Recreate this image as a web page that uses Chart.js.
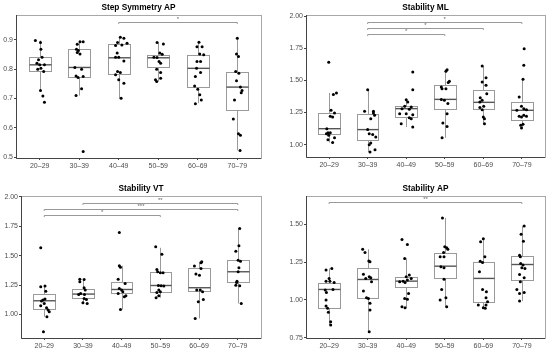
<!DOCTYPE html>
<html>
<head>
<meta charset="utf-8">
<script src="https://cdn.jsdelivr.net/npm/chart.js@4.4.1/dist/chart.umd.min.js"></script>
<style>
html, body { margin: 0; padding: 0; background: #fff; }
#wrap { position: relative; width: 550px; height: 351px; }
#wrap canvas { position: absolute; }
</style>
</head>
<body>
<div id="wrap">
  <canvas id="c1" width="275" height="175" style="left:0;top:0"></canvas>
  <canvas id="c2" width="275" height="175" style="left:275px;top:0"></canvas>
  <canvas id="c3" width="275" height="176" style="left:0;top:175px"></canvas>
  <canvas id="c4" width="275" height="176" style="left:275px;top:175px"></canvas>
</div>
<script>
const ageGroups = ["20–29", "30–39", "40–49", "50–59", "60–69", "70–79"];

// Step Symmetry AP
const ssTicks = [0.5, 0.6, 0.7, 0.8, 0.9];
const ssQ1 = [0.793, 0.775, 0.784, 0.807, 0.738, 0.661];
const ssMed = [0.815, 0.806, 0.839, 0.839, 0.803, 0.739];
const ssQ3 = [0.841, 0.868, 0.885, 0.847, 0.849, 0.790];
const ssLow = [0.727, 0.710, 0.701, 0.758, 0.684, 0.523];
const ssHigh = [0.898, 0.897, 0.909, 0.891, 0.892, 0.906];
const ssPoints = [
  [[-0.11,0.898],[0.02,0.891],[0.03,0.868],[0.06,0.841],[-0.03,0.832],[-0.07,0.820],[0,0.815],[0.12,0.815],[-0.05,0.800],[0.03,0.803],[0.1,0.792],[0.02,0.727],[0.08,0.709],[0.12,0.687]],
  [[0.02,0.894],[0.1,0.894],[-0.05,0.885],[-0.07,0.868],[-0.02,0.864],[-0.05,0.857],[0.02,0.852],[-0.11,0.806],[0.06,0.800],[-0.08,0.777],[-0.03,0.772],[0.1,0.775],[0.06,0.733],[-0.08,0.710],[0.1,0.519]],
  [[0.04,0.909],[0.13,0.906],[-0.03,0.891],[0.21,0.889],[-0.08,0.881],[0.08,0.883],[-0.04,0.855],[-0.08,0.841],[0,0.841],[0.13,0.828],[-0.03,0.792],[0.04,0.789],[-0.08,0.781],[0,0.764],[0.13,0.752],[0.06,0.701]],
  [[-0.03,0.891],[0.13,0.886],[0.04,0.855],[0.1,0.851],[-0.11,0.841],[-0.03,0.840],[0.02,0.826],[0.06,0.820],[-0.04,0.800],[0.06,0.789],[-0.07,0.764],[0.06,0.769],[-0.04,0.758]],
  [[0.03,0.892],[0.11,0.877],[-0.02,0.877],[0.05,0.852],[0.15,0.849],[-0.02,0.826],[0.07,0.826],[-0.03,0.803],[0.07,0.789],[-0.06,0.775],[-0.08,0.743],[0,0.732],[0.05,0.713],[0.09,0.695],[-0.06,0.682]],
  [[0,0.906],[-0.02,0.852],[0.03,0.843],[-0.04,0.792],[0.04,0.786],[-0.02,0.761],[0.08,0.739],[0.12,0.727],[0.1,0.720],[-0.07,0.695],[-0.1,0.630],[0.03,0.580],[0.08,0.575],[0.07,0.523]]
];
const ssSig = [[3, 6, 0.962, "*"]];

// Stability ML
const mlTicks = [1.00, 1.25, 1.50, 1.75, 2.00];
const mlQ1 = [1.085, 1.034, 1.215, 1.280, 1.280, 1.189];
const mlMed = [1.124, 1.117, 1.280, 1.352, 1.329, 1.267];
const mlQ3 = [1.249, 1.241, 1.298, 1.464, 1.427, 1.332];
const mlLow = [1.016, 0.943, 1.137, 1.054, 1.163, 1.130];
const mlHigh = [1.402, 1.427, 1.350, 1.583, 1.611, 1.508];
const mlPoints = [
  [[-0.01,1.640],[0.11,1.389],[0.19,1.402],[0.05,1.267],[0.03,1.220],[0.14,1.246],[0.09,1.215],[-0.06,1.124],[-0.03,1.093],[0.03,1.093],[-0.07,1.085],[-0.01,1.073],[0.14,1.054],[-0.03,1.039],[0.09,1.016]],
  [[0,1.427],[-0.08,1.259],[0.15,1.259],[0.15,1.246],[0.18,1.228],[0.08,1.202],[0,1.117],[0.04,1.085],[0.13,1.078],[0.21,1.060],[0.08,1.013],[0.04,1.000],[0.19,0.961],[0.06,0.943]],
  [[0.17,1.565],[0.17,1.427],[0,1.350],[0.04,1.332],[-0.04,1.298],[0.13,1.293],[-0.11,1.280],[0.08,1.275],[0,1.241],[-0.17,1.241],[0.17,1.233],[0.08,1.210],[0.13,1.202],[-0.13,1.163],[0.17,1.137]],
  [[0.06,1.583],[0.03,1.570],[0.12,1.492],[0.09,1.484],[-0.09,1.448],[-0.07,1.435],[0.03,1.435],[-0.09,1.352],[-0.01,1.345],[0.08,1.319],[0.06,1.241],[-0.05,1.168],[0.06,1.142],[-0.07,1.054]],
  [[-0.03,1.611],[-0.03,1.487],[0.07,1.521],[0.07,1.461],[0.09,1.396],[-0.08,1.365],[-0.03,1.345],[-0.09,1.332],[0.01,1.298],[-0.09,1.288],[-0.03,1.272],[0,1.215],[0.03,1.202],[0.03,1.163]],
  [[0.06,1.746],[0.05,1.617],[0.03,1.508],[-0.07,1.370],[-0.01,1.298],[0.05,1.280],[0.12,1.272],[-0.13,1.267],[-0.07,1.220],[-0.01,1.215],[0.05,1.228],[0.12,1.220],[-0.03,1.150],[0.03,1.158],[-0.01,1.130]]
];
const mlSig = [[2, 6, 1.953, "*"], [2, 5, 1.906, "*"], [2, 4, 1.857, "*"]];

// Stability VT
const vtTicks = [1.00, 1.25, 1.50, 1.75, 2.00];
const vtQ1 = [1.042, 1.136, 1.178, 1.187, 1.201, 1.278];
const vtMed = [1.116, 1.173, 1.212, 1.246, 1.227, 1.363];
const vtQ3 = [1.173, 1.215, 1.278, 1.363, 1.397, 1.462];
const vtLow = [0.980, 1.093, 1.042, 1.142, 0.966, 1.093];
const vtHigh = [1.241, 1.300, 1.414, 1.567, 1.448, 1.731];
const vtPoints = [
  [[-0.09,1.567],[-0.09,1.235],[0.02,1.241],[0.04,1.198],[0.02,1.130],[-0.03,1.122],[-0.07,1.113],[0,1.093],[-0.09,1.074],[0.06,1.057],[0.1,1.037],[0.13,1.023],[0.07,0.980],[-0.02,0.853]],
  [[-0.08,1.300],[0.03,1.297],[-0.08,1.278],[0.03,1.227],[0.06,1.207],[-0.06,1.178],[-0.11,1.170],[0.04,1.170],[0.03,1.136],[0.09,1.127],[0,1.099],[0.11,1.093]],
  [[-0.06,1.697],[-0.06,1.414],[-0.03,1.402],[-0.09,1.300],[0.09,1.263],[-0.06,1.221],[0,1.207],[0.03,1.193],[-0.09,1.178],[0.07,1.150],[0.11,1.159],[-0.03,1.042]],
  [[-0.12,1.575],[0.04,1.513],[-0.09,1.382],[-0.07,1.363],[0,1.354],[0.07,1.354],[0.09,1.241],[-0.05,1.246],[0.02,1.244],[-0.04,1.207],[0,1.193],[-0.09,1.187],[-0.04,1.159],[-0.11,1.142]],
  [[0.07,1.448],[0.05,1.439],[-0.12,1.411],[-0.08,1.343],[0.01,1.334],[0.05,1.391],[-0.06,1.207],[0.03,1.207],[0.09,1.193],[-0.02,1.108],[0.11,1.127],[-0.1,0.966]],
  [[0.05,1.731],[0.03,1.584],[-0.05,1.538],[0.01,1.462],[0.07,1.453],[0.03,1.397],[0.01,1.363],[-0.02,1.283],[-0.03,1.272],[-0.05,1.249],[0.05,1.244],[0.09,1.093]]
];
const vtSig = [[2, 6, 1.952, "**"], [1, 6, 1.901, "***"], [1, 4, 1.850, "*"]];

// Stability AP
const apTicks = [0.75, 1.00, 1.25, 1.50];
const apQ1 = [0.948, 1.010, 1.087, 1.142, 0.988, 1.131];
const apMed = [1.069, 1.135, 1.124, 1.223, 1.142, 1.234];
const apQ3 = [1.109, 1.214, 1.153, 1.313, 1.252, 1.291];
const apLow = [0.834, 0.790, 0.948, 0.955, 0.944, 0.992];
const apHigh = [1.208, 1.335, 1.274, 1.542, 1.405, 1.489];
const apPoints = [
  [[0.07,1.208],[-0.08,1.197],[0,1.142],[-0.08,1.124],[0.02,1.124],[0.13,1.115],[0.1,1.069],[-0.1,1.065],[-0.07,1.049],[-0.08,0.999],[-0.08,0.959],[-0.04,0.944],[-0.02,0.918],[0.04,0.856],[0.04,0.834]],
  [[-0.13,1.335],[-0.07,1.313],[0.03,1.258],[0.06,1.252],[-0.11,1.170],[0.04,1.153],[0.08,1.146],[-0.05,1.142],[0.1,1.120],[-0.11,1.058],[-0.03,1.014],[0.02,1.010],[0.06,0.977],[0.06,0.933],[0.04,0.790]],
  [[-0.11,1.399],[0.03,1.366],[-0.04,1.274],[0.08,1.164],[0,1.153],[0.13,1.142],[-0.08,1.124],[0.03,1.131],[-0.17,1.120],[-0.03,1.115],[0.06,1.043],[-0.04,1.010],[0.03,1.005],[-0.11,0.955],[-0.03,0.948]],
  [[-0.06,1.542],[0,1.351],[0.05,1.344],[0.08,1.335],[-0.03,1.313],[-0.12,1.285],[-0.02,1.285],[-0.1,1.219],[-0.02,1.212],[-0.02,1.137],[-0.08,1.069],[0.03,1.014],[-0.12,0.999],[0.05,0.955]],
  [[0,1.405],[-0.07,1.384],[-0.08,1.256],[-0.02,1.247],[0.04,1.285],[-0.1,1.186],[-0.02,1.069],[0.08,1.054],[0.07,1.014],[0.11,0.988],[-0.13,0.966],[0.07,0.966],[0,0.948],[0.05,0.944]],
  [[0.06,1.489],[-0.02,1.434],[0.04,1.388],[-0.06,1.296],[-0.04,1.285],[-0.03,1.241],[0,1.212],[0.03,1.230],[0.08,1.208],[-0.06,1.168],[0.06,1.146],[-0.04,1.120],[-0.13,1.069],[-0.06,1.043],[0.06,1.049],[-0.06,0.992]]
];
const apSig = [[1, 6, 1.647, "**"]];

const FONT = "'Liberation Sans', Arial, sans-serif";
const BOX_HALF = 0.28;

// boxes, whiskers and medians, drawn under the points
const boxPlugin = {
  id: "boxes",
  beforeDatasetsDraw(chart) {
    const o = chart.options.plugins.boxes;
    const { ctx } = chart;
    const x = chart.scales.x, y = chart.scales.y;
    ctx.save();
    o.q1.forEach((q1, i) => {
      const cx = Math.round(x.getPixelForValue(i + 1)) + 0.5;
      const left = Math.round(x.getPixelForValue(i + 1 - BOX_HALF)) + 0.5;
      const right = Math.round(x.getPixelForValue(i + 1 + BOX_HALF)) + 0.5;
      const yq1 = Math.round(y.getPixelForValue(q1)) + 0.5;
      const yq3 = Math.round(y.getPixelForValue(o.q3[i])) + 0.5;
      const ylo = y.getPixelForValue(o.low[i]);
      const yhi = y.getPixelForValue(o.high[i]);
      const ymed = y.getPixelForValue(o.med[i]);
      ctx.strokeStyle = "#9a9a9a";
      ctx.lineWidth = 1;
      ctx.beginPath();
      ctx.moveTo(cx, yq3); ctx.lineTo(cx, yhi);
      ctx.moveTo(cx, yq1); ctx.lineTo(cx, ylo);
      ctx.stroke();
      ctx.fillStyle = "#fff";
      ctx.fillRect(left, yq3, right - left, yq1 - yq3);
      ctx.strokeRect(left, yq3, right - left, yq1 - yq3);
      ctx.strokeStyle = "#555";
      ctx.lineWidth = 1.4;
      ctx.beginPath();
      ctx.moveTo(left, ymed); ctx.lineTo(right, ymed);
      ctx.stroke();
    });
    ctx.restore();
  }
};

// panel frame, title and significance brackets
const framePlugin = {
  id: "frame",
  beforeDatasetsDraw(chart) {
    const { ctx, chartArea: a } = chart;
    ctx.save();
    ctx.strokeStyle = "#a8a8a8";
    ctx.lineWidth = 1;
    ctx.strokeRect(Math.round(a.left) + 0.5, Math.round(a.top) + 0.5, Math.round(a.right - a.left), Math.round(a.bottom - a.top));
    ctx.strokeStyle = "#444";
    ctx.beginPath();
    ctx.moveTo(Math.round(a.left) + 0.5, a.top);
    ctx.lineTo(Math.round(a.left) + 0.5, Math.round(a.bottom) + 0.5);
    ctx.lineTo(a.right, Math.round(a.bottom) + 0.5);
    ctx.stroke();
    ctx.restore();
  },
  afterDatasetsDraw(chart) {
    const o = chart.options.plugins.frame;
    const { ctx, chartArea: a } = chart;
    const x = chart.scales.x, y = chart.scales.y;
    ctx.save();
    ctx.fillStyle = "#000";
    ctx.font = "bold 8.3px " + FONT;
    ctx.textAlign = "center";
    ctx.textBaseline = "middle";
    ctx.fillText(o.title, (a.left + a.right) / 2, o.titleY);
    o.sig.forEach(([g1, g2, v, label]) => {
      const x1 = x.getPixelForValue(g1), x2 = x.getPixelForValue(g2);
      const yy = Math.round(y.getPixelForValue(v)) + 0.5;
      ctx.strokeStyle = "#999";
      ctx.lineWidth = 1;
      ctx.beginPath();
      ctx.moveTo(x1, yy + 1.5); ctx.lineTo(x1, yy);
      ctx.lineTo(x2, yy); ctx.lineTo(x2, yy + 1.5);
      ctx.stroke();
      ctx.fillStyle = "#666";
      ctx.font = "6px " + FONT;
      ctx.fillText(label, (x1 + x2) / 2, yy - 3);
    });
    ctx.restore();
  }
};

function makePanel(id, cfg) {
  const pts = cfg.points.flatMap((g, i) => g.map(([dx, v]) => ({ x: i + 1 + dx, y: v })));
  return new Chart(document.getElementById(id), {
    type: "scatter",
    data: {
      datasets: [{
        data: pts,
        pointRadius: 1.5,
        pointBackgroundColor: "#000",
        pointBorderWidth: 0,
        pointHoverRadius: 1.5
      }]
    },
    options: {
      responsive: false,
      animation: false,
      events: [],
      layout: { padding: { left: 0, top: cfg.top, right: cfg.right, bottom: 0 } },
      plugins: {
        legend: { display: false },
        tooltip: { enabled: false },
        boxes: { q1: cfg.q1, med: cfg.med, q3: cfg.q3, low: cfg.low, high: cfg.high },
        frame: { title: cfg.title, titleY: cfg.titleY, sig: cfg.sig }
      },
      scales: {
        x: {
          type: "linear",
          min: 0.4,
          max: 6.6,
          afterBuildTicks: (s) => { s.ticks = ageGroups.map((g, i) => ({ value: i + 1 })); },
          afterFit: (s) => { s.height = cfg.xHeight; },
          ticks: {
            callback: (v) => ageGroups[Math.round(v) - 1],
            font: { family: FONT, size: 7 },
            color: "#4d4d4d",
            padding: 1.5,
            maxRotation: 0,
            autoSkip: false
          },
          grid: { drawOnChartArea: false, tickLength: 2, color: "#444" },
          border: { display: false }
        },
        y: {
          min: cfg.yMin,
          max: cfg.yMax,
          afterBuildTicks: (s) => { s.ticks = cfg.ticks.map((v) => ({ value: v })); },
          afterFit: (s) => { s.width = cfg.yWidth; },
          ticks: {
            callback: (v) => v.toFixed(cfg.decimals),
            font: { family: FONT, size: 7 },
            color: "#4d4d4d",
            padding: 1
          },
          grid: { drawOnChartArea: false, tickLength: 2, color: "#444" },
          border: { display: false }
        }
      }
    },
    plugins: [framePlugin, boxPlugin]
  });
}

makePanel("c1", {
  title: "Step Symmetry AP", titleY: 7.5, top: 15, right: 14, yWidth: 16, xHeight: 17,
  yMin: 0.497, yMax: 0.985, ticks: ssTicks, decimals: 1,
  q1: ssQ1, med: ssMed, q3: ssQ3, low: ssLow, high: ssHigh, points: ssPoints, sig: ssSig
});
makePanel("c2", {
  title: "Stability ML", titleY: 7.5, top: 15, right: 5, yWidth: 31, xHeight: 18,
  yMin: 0.904, yMax: 2.008, ticks: mlTicks, decimals: 2,
  q1: mlQ1, med: mlMed, q3: mlQ3, low: mlLow, high: mlHigh, points: mlPoints, sig: mlSig
});
makePanel("c3", {
  title: "Stability VT", titleY: 13.5, top: 21, right: 14, yWidth: 21, xHeight: 13,
  yMin: 0.799, yMax: 2.008, ticks: vtTicks, decimals: 2,
  q1: vtQ1, med: vtMed, q3: vtQ3, low: vtLow, high: vtHigh, points: vtPoints, sig: vtSig
});
makePanel("c4", {
  title: "Stability AP", titleY: 13.5, top: 21, right: 5, yWidth: 31, xHeight: 13,
  yMin: 0.748, yMax: 1.687, ticks: apTicks, decimals: 2,
  q1: apQ1, med: apMed, q3: apQ3, low: apLow, high: apHigh, points: apPoints, sig: apSig
});
</script>
</body>
</html>
